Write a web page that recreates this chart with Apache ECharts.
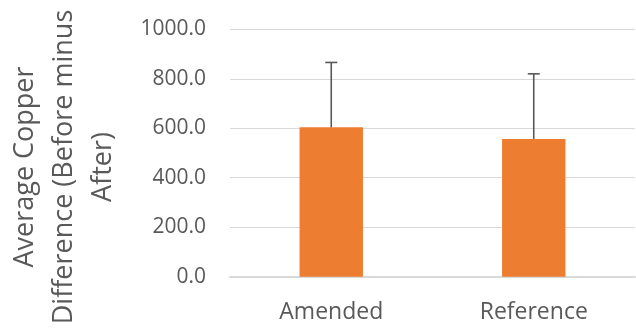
<!DOCTYPE html>
<html>
<head>
<meta charset="utf-8">
<script src="https://cdn.jsdelivr.net/npm/echarts@6/dist/echarts.min.js"></script>
<style>
html,body{margin:0;padding:0;background:#fff;}
#chart{width:636px;height:333px;}
</style>
</head>
<body>
<div id="chart"></div>
<script>
const categories = ['Amended', 'Reference'];
const means = [604, 557];
const errorsPlus = [262, 263];
const yMin = 0, yMax = 1000, yStep = 200;
const axisTitleLines = ['Average Copper', 'Difference (Before minus', 'After)'];

const FONT = 'Open Sans';
const chart = echarts.init(document.getElementById('chart'), null, {renderer: 'canvas'});

const errData = categories.map((c, i) => [i, means[i], errorsPlus[i]]);

chart.setOption({
  animation: false,
  backgroundColor: '#ffffff',
  grid: {left: 230, right: 1, top: 29.3, bottom: 56.3, containLabel: false},
  xAxis: {
    type: 'category',
    data: categories,
    boundaryGap: true,
    axisLine: {show: true, lineStyle: {color: '#d9d9d9', width: 2}},
    axisTick: {show: false},
    axisLabel: {color: '#595959', fontFamily: FONT, fontSize: 23, margin: 24}
  },
  yAxis: {
    type: 'value',
    min: yMin, max: yMax, interval: yStep,
    axisLine: {show: false},
    axisTick: {show: false},
    splitLine: {lineStyle: {color: '#d9d9d9', width: 1.2}},
    axisLabel: {color: '#595959', fontFamily: FONT, fontSize: 21, margin: 24,
      formatter: v => v.toFixed(1)}
  },
  graphic: [{
    type: 'text',
    x: 64, y: 167,
    rotation: Math.PI / 2,
    style: {
      text: axisTitleLines.join('\n'),
      fill: '#595959',
      font: '27px "Open Sans"',
      lineHeight: 39,
      align: 'center',
      verticalAlign: 'middle'
    }
  }],
  series: [
    {
      type: 'bar',
      data: means,
      barWidth: 63.4,
      itemStyle: {color: '#ED7D31'},
      z: 2
    },
    {
      type: 'custom',
      data: errData,
      z: 3,
      renderItem: function (params, api) {
        const x = api.value(0);
        const base = api.coord([x, api.value(1)]);
        const top = api.coord([x, api.value(1) + api.value(2)]);
        const half = 6;
        const style = {stroke: '#595959', lineWidth: 1.6};
        return {
          type: 'group',
          children: [
            {type: 'line', shape: {x1: base[0], y1: base[1], x2: top[0], y2: top[1]}, style: style},
            {type: 'line', shape: {x1: top[0] - half, y1: top[1], x2: top[0] + half, y2: top[1]}, style: style}
          ]
        };
      }
    }
  ]
});
</script>
</body>
</html>
